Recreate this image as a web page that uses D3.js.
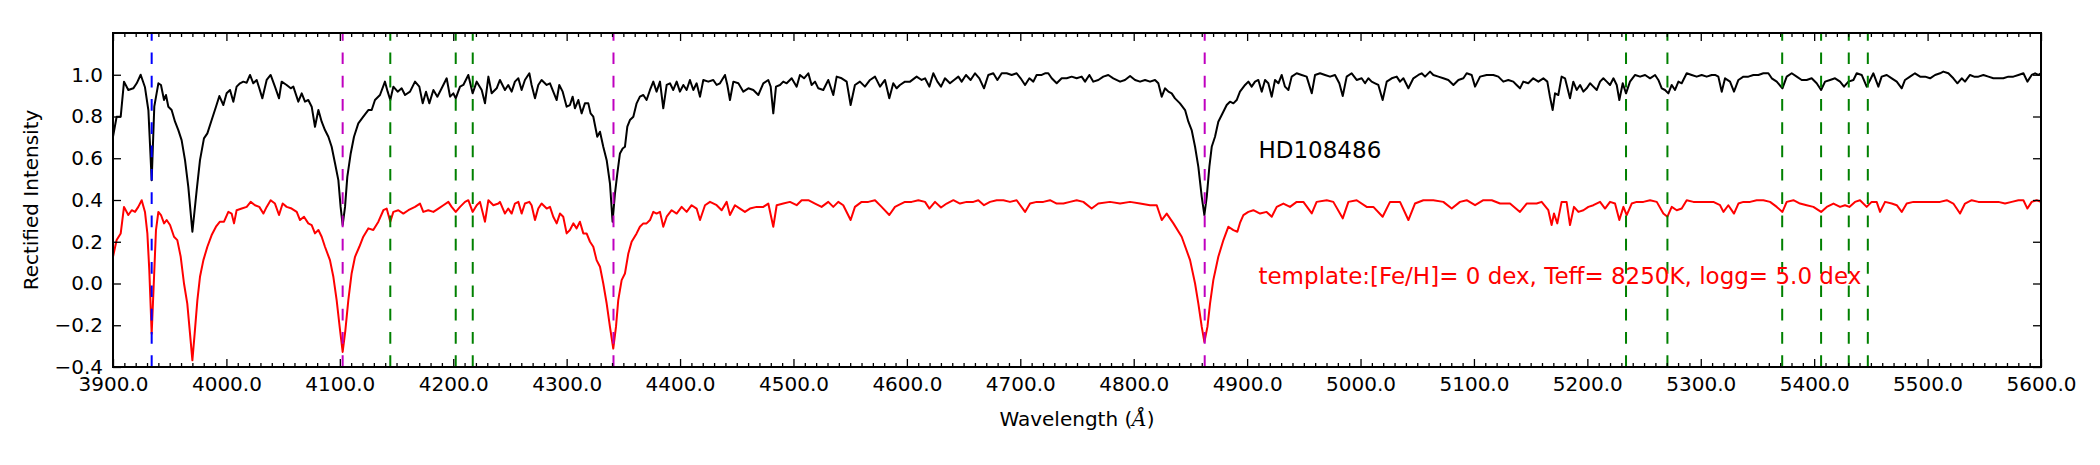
<!DOCTYPE html>
<html><head><meta charset="utf-8">
<script src="https://cdn.jsdelivr.net/npm/d3@7"></script>
<style>body{margin:0;background:#fff} svg text{font-family:"DejaVu Sans",sans-serif}</style>
</head><body><svg id="chart" width="2100" height="465"></svg>
<script>
// Observed spectrum HD108486: [wavelength (Å), rectified intensity]
const observed = [
[3900,0.703],[3903.2,0.799],[3906.8,0.799],[3909.7,0.967],[3913.5,0.927],[3917.9,0.935],[3920.9,0.959],[3924.4,1.0],[3928.2,0.94],[3931.2,0.83],[3934.1,0.495],[3936.4,0.847],[3940.0,0.959],[3942.3,0.951],[3945.0,0.879],[3946.7,0.903],[3948.8,0.847],[3951.7,0.831],[3954.7,0.775],[3957.6,0.735],[3960.5,0.687],[3963.5,0.591],[3966.4,0.463],[3970.0,0.248],[3973.8,0.447],[3976.7,0.591],[3980.2,0.695],[3983.2,0.719],[3987.0,0.783],[3990.8,0.847],[3993.8,0.898],[3997.3,0.855],[4000.2,0.911],[4003.2,0.927],[4006.1,0.871],[4009.0,0.943],[4012.0,0.959],[4014.9,0.967],[4017.9,0.962],[4020.8,0.999],[4023.7,0.959],[4026.7,0.975],[4029.0,0.935],[4031.7,0.887],[4035.5,0.975],[4039.0,0.999],[4042.8,0.943],[4046.4,0.887],[4048.7,0.967],[4053.1,0.951],[4056.7,0.935],[4059.0,0.943],[4063.4,0.871],[4066.4,0.911],[4069.3,0.871],[4072.2,0.879],[4075.2,0.847],[4078.1,0.751],[4081.1,0.831],[4084.0,0.775],[4086.9,0.735],[4089.9,0.703],[4092.8,0.655],[4095.8,0.575],[4098.7,0.495],[4100.7,0.367],[4102.5,0.280],[4104.6,0.367],[4106.6,0.511],[4109.6,0.623],[4112.5,0.703],[4116.3,0.767],[4120.7,0.799],[4125.1,0.831],[4128.1,0.831],[4131.0,0.879],[4135.4,0.903],[4139.8,0.967],[4142.2,0.919],[4144.5,0.879],[4147.2,0.943],[4151.0,0.919],[4154.5,0.935],[4157.5,0.903],[4161.9,0.919],[4166.3,0.967],[4170.1,0.943],[4173.1,0.863],[4176.0,0.919],[4178.9,0.863],[4182.5,0.927],[4186.0,0.895],[4189.8,0.935],[4194.2,0.983],[4197.2,0.895],[4200.1,0.911],[4202.2,0.887],[4206.0,0.943],[4208.9,0.951],[4213.3,0.999],[4217.1,0.911],[4220.7,0.967],[4225.1,0.927],[4228.0,0.863],[4231.0,0.991],[4233.9,0.911],[4238.3,0.935],
[4241.2,0.975],[4245.6,0.927],[4248.5,0.951],[4251.5,0.919],[4254.4,0.967],[4257.4,0.983],[4260.3,0.927],[4263.2,0.975],[4267.1,1.007],[4269.1,0.951],[4272.1,0.887],[4275.0,0.951],[4277.9,0.975],[4282.4,0.951],[4285.3,0.959],[4288.2,0.919],[4291.2,0.879],[4293.5,0.951],[4296.5,0.919],[4300.0,0.847],[4302.9,0.855],[4305.3,0.895],[4307.3,0.839],[4310.3,0.879],[4313.2,0.815],[4316.1,0.863],[4319.1,0.863],[4321.1,0.815],[4323.5,0.799],[4327.0,0.703],[4329.4,0.727],[4332.3,0.655],[4335.3,0.591],[4338.2,0.479],[4340.5,0.296],[4342.6,0.431],[4344.7,0.527],[4347.0,0.623],[4349.4,0.647],[4351.4,0.655],[4353.5,0.751],[4355.8,0.783],[4358.8,0.799],[4361.7,0.863],[4364.6,0.895],[4367.6,0.903],[4370.5,0.879],[4373.5,0.927],[4376.4,0.967],[4379.3,0.919],[4382.3,0.967],[4385.2,0.839],[4388.2,0.951],[4391.1,0.959],[4394.0,0.927],[4397.0,0.967],[4399.9,0.919],[4402.9,0.951],[4405.8,0.927],[4408.7,0.975],[4411.7,0.927],[4414.6,0.959],[4417.6,0.895],[4420.5,0.975],[4424.9,0.967],[4429.3,0.975],[4432.3,0.951],[4435.2,0.959],[4439.6,0.999],[4441.7,0.951],[4444.0,0.879],[4447.0,0.967],[4451.4,0.959],[4455.8,0.919],[4460.2,0.935],[4464.6,0.927],[4469.0,0.903],[4473.4,0.959],[4477.8,0.975],[4479.9,0.943],[4482.2,0.815],[4484.6,0.943],[4488.1,0.951],[4491.0,0.967],[4494.0,0.959],[4498.4,0.983],[4502.8,0.943],[4505.7,0.999],[4509.3,0.983],[4513.1,1.007],[4516.0,0.951],[4519.0,0.967],[4521.9,0.935],[4526.3,0.927],[4530.7,0.975],[4535.1,0.903],[4538.1,0.991],[4542.5,0.983],[4546.9,0.967],[4550.4,0.855],[4554.2,0.951],[4558.6,0.967],[4563.0,0.943],[4567.5,0.975],[4571.9,0.991],[4576.3,0.943],[4580.7,0.975],[4584.5,0.887],[4588.0,0.959],
[4591.0,0.935],[4593.9,0.951],[4598.3,0.967],[4602.8,0.967],[4608.6,0.991],[4613.0,0.975],[4616.0,0.983],[4619.8,0.943],[4623.3,1.007],[4626.9,0.967],[4630.1,0.943],[4633.6,0.983],[4638.0,0.959],[4641.6,0.975],[4645.4,0.991],[4648.3,0.967],[4652.1,0.999],[4656.2,0.975],[4660.1,1.007],[4663.9,0.983],[4668.0,0.935],[4671.8,0.999],[4676.2,1.007],[4679.8,0.975],[4683.6,1.007],[4688.0,1.007],[4692.4,0.999],[4696.8,1.007],[4700.3,0.983],[4704.2,0.951],[4708.0,0.983],[4711.5,0.967],[4714.4,0.999],[4718.9,0.999],[4721.8,1.007],[4724.7,1.007],[4727.7,0.983],[4732.1,0.959],[4736.5,0.983],[4740.9,0.983],[4745.3,0.991],[4749.7,0.983],[4754.1,0.991],[4757.1,0.967],[4760.9,0.999],[4764.4,0.967],[4768.8,0.975],[4773.2,0.991],[4777.6,0.999],[4782.0,0.983],
[4788.0,0.967],[4792.3,0.975],[4796.8,0.994],[4801.2,0.975],[4805.6,0.967],[4810.0,0.975],[4814.4,0.967],[4818.8,0.975],[4821.7,0.959],[4824.7,0.895],[4827.6,0.935],[4830.6,0.919],[4833.5,0.911],[4836.4,0.887],[4840.8,0.863],[4845.3,0.831],[4848.2,0.775],[4851.1,0.735],[4854.1,0.655],[4857.0,0.559],[4860.0,0.415],[4862.3,0.328],[4864.4,0.415],[4866.7,0.559],[4868.8,0.655],[4871.7,0.703],[4874.6,0.775],[4877.6,0.807],[4882.0,0.855],[4884.9,0.871],[4887.9,0.863],[4890.8,0.879],[4893.7,0.919],[4898.2,0.951],[4901.1,0.967],[4904.0,0.943],[4907.0,0.967],[4909.9,0.975],[4912.9,0.919],[4915.8,0.975],[4918.7,0.959],[4921.7,0.895],[4924.6,0.975],[4927.6,0.959],[4930.5,0.999],[4933.4,0.943],[4936.4,0.927],[4939.3,0.991],[4943.7,1.007],[4948.1,0.999],[4952.5,0.991],[4957.0,0.911],[4959.9,0.999],[4964.3,1.007],[4968.7,0.999],[4973.1,0.991],[4977.5,0.999],[4981.3,0.959],[4984.3,0.898],[4987.8,0.991],[4992.2,1.007],[4996.6,0.975],[5001.0,0.983],[5004.0,0.959],[5006.9,0.983],[5009.8,0.967],[5012.8,0.959],[5015.7,0.951],[5019.5,0.879],[5023.1,0.967],[5027.5,0.983],[5031.9,0.991],[5034.8,0.967],[5037.8,0.983],[5042.2,0.935],[5046.6,0.983],[5051.0,0.999],[5053.9,1.007],[5056.9,0.991],[5061.3,1.015],[5064.2,0.999],[5068.6,0.991],[5073.0,0.983],[5077.4,0.975],[5081.9,0.951],[5086.3,0.975],[5090.7,0.983],[5093.6,1.007],[5098.0,0.999],[5101.0,0.943],[5105.4,0.991],[5111.2,0.999],[5117.1,0.999],
[5121.5,0.991],[5125.9,0.967],[5130.3,0.975],[5134.7,0.967],[5137.6,0.951],[5140.6,0.935],[5143.5,0.967],[5147.9,0.959],[5152.3,0.983],[5156.8,0.967],[5161.2,0.983],[5164.7,0.967],[5167.0,0.895],[5169.4,0.831],[5171.5,0.911],[5174.4,0.903],[5177.3,0.991],[5180.3,0.983],[5184.7,0.887],[5187.6,0.967],
[5190.6,0.927],[5193.6,0.951],[5196.5,0.919],[5199.4,0.935],[5202.4,0.959],[5205.3,0.943],[5208.3,0.927],[5211.2,0.967],[5214.1,0.983],[5217.1,0.967],[5220.0,0.951],[5223.0,0.983],[5225.9,0.951],[5228.2,0.879],[5231.2,0.959],[5234.1,0.911],[5237.6,0.967],[5242.1,0.999],[5246.5,0.991],[5250.9,0.999],[5255.3,0.983],[5259.7,0.999],[5262.6,0.975],[5265.6,0.935],[5268.5,0.927],[5271.4,0.911],[5274.4,0.951],[5277.3,0.927],[5280.3,0.967],[5283.2,0.959],[5287.6,1.007],[5292.0,0.999],[5296.4,0.991],[5300.8,0.999],[5305.2,0.991],[5309.7,0.999],[5312.6,0.999],[5315.5,0.991],[5318.5,0.919],[5321.4,0.983],[5325.8,0.967],[5329.3,0.919],[5333.2,0.975],[5337.6,0.991],[5342.0,0.991],[5346.4,0.999],[5350.8,0.999],[5355.2,1.007],[5359.6,1.007],[5362.6,0.983],[5367.0,0.967],[5372.0,0.935],[5375.8,0.991],[5380.2,1.007],[5384.6,0.991],[5389.0,0.975],[5393.4,0.975],[5397.8,0.983],[5402.2,0.959],[5406.1,0.927],[5409.6,0.967],[5414.0,0.975],[5418.4,0.983],[5422.8,0.967],[5426.3,0.943],[5430.2,0.967],[5434.6,0.975],[5437.5,1.007],[5441.9,0.999],[5446.3,0.943],[5449.3,0.975],[5452.2,1.007],[5456.6,0.943],[5459.5,0.991],[5464.0,0.999],[5468.4,0.983],[5472.8,0.967],[5477.2,0.935],[5480.1,0.975],[5484.5,0.991],[5488.9,1.007],[5493.4,0.991],[5497.8,0.991],[5502.2,0.983],[5506.6,0.999],[5511.0,1.007],[5513.9,1.015],[5518.3,1.007],[5522.7,0.983],[5526.3,0.959],[5530.1,0.983],[5533.0,0.967],[5537.4,0.999],[5541.0,0.991],[5544.8,0.991],[5549.2,0.999],[5553.6,0.991],[5558.0,0.983],[5562.4,0.983],[5566.8,0.983],[5571.2,0.991],[5575.6,0.991],[5580.1,0.999],[5584.5,1.007],[5588.0,0.967],[5591.8,0.999],[5594.8,1.007],[5597.7,0.999],[5600.0,1.007]
];
// Template spectrum (shifted down): [wavelength (Å), rectified intensity]
const template = [
[3900,0.128],[3903.2,0.208],[3906.8,0.240],[3909.7,0.367],[3913.5,0.328],[3916.5,0.351],[3919.4,0.343],[3922.3,0.367],[3925.3,0.399],[3928.2,0.343],[3930.3,0.240],[3932.0,0.064],[3934.1,-0.240],[3936.2,0.032],[3937.9,0.256],[3940.0,0.343],[3942.3,0.328],[3945.0,0.288],[3947.3,0.304],[3950.3,0.280],[3953.8,0.224],[3956.7,0.208],[3959.7,0.128],[3962.6,0.000],[3965.5,-0.096],[3967.9,-0.240],[3970.0,-0.368],[3972.0,-0.240],[3974.4,-0.080],[3976.7,0.032],[3979.7,0.112],[3983.2,0.176],[3987.0,0.232],[3990.8,0.272],[3994.3,0.296],[3997.9,0.296],[4001.7,0.343],[4004.6,0.335],[4006.7,0.288],[4009.0,0.351],[4013.5,0.359],[4017.9,0.367],[4021.4,0.391],[4025.2,0.375],[4029.0,0.367],[4032.6,0.335],[4035.5,0.367],[4039.0,0.399],[4042.8,0.383],[4046.4,0.328],[4049.6,0.383],[4053.1,0.367],[4057.5,0.359],[4062.0,0.343],[4064.9,0.304],[4068.4,0.320],[4072.2,0.288],[4075.2,0.280],[4078.1,0.240],[4081.1,0.256],[4084.0,0.224],[4086.9,0.176],[4091.3,0.112],[4094.3,0.032],[4097.2,-0.080],[4100.2,-0.224],[4102.5,-0.328],[4104.9,-0.224],[4107.5,-0.080],[4110.4,0.048],[4113.4,0.128],[4117.2,0.176],[4120.7,0.224],[4125.1,0.264],[4129.5,0.256],[4134.0,0.296],[4138.4,0.351],[4141.3,0.359],[4144.5,0.296],[4147.2,0.343],[4151.6,0.351],[4156.0,0.335],[4160.4,0.351],[4166.3,0.367],[4170.7,0.383],[4173.6,0.343],[4178.0,0.351],[4182.5,0.343],[4186.9,0.359],[4191.3,0.375],[4195.7,0.391],[4198.6,0.367],[4202.2,0.343],[4206.0,0.367],[4210.4,0.391],[4213.3,0.399],[4217.1,0.343],[4220.7,0.375],[4223.6,0.391],[4228.0,0.296],[4231.0,0.399],[4235.4,0.375],[4239.8,0.383],
[4241.2,0.391],[4245.6,0.335],[4248.5,0.359],[4251.5,0.335],[4254.4,0.383],[4257.4,0.391],[4260.3,0.335],[4263.2,0.383],[4267.1,0.391],[4269.1,0.375],[4272.1,0.304],[4275.0,0.359],[4277.9,0.383],[4282.4,0.359],[4285.3,0.367],[4288.2,0.320],[4291.2,0.288],[4294.1,0.335],[4297.0,0.320],[4300.0,0.240],[4302.9,0.256],[4305.9,0.288],[4308.8,0.264],[4311.7,0.296],[4314.7,0.240],[4317.6,0.240],[4320.6,0.200],[4323.5,0.176],[4326.4,0.112],[4329.4,0.080],[4332.3,0.000],[4335.3,-0.096],[4338.2,-0.208],[4341.1,-0.312],[4343.5,-0.208],[4345.5,-0.080],[4348.5,0.016],[4351.4,0.048],[4354.4,0.144],[4357.3,0.200],[4361.7,0.240],[4364.6,0.272],[4367.6,0.288],[4370.5,0.288],[4373.5,0.304],[4376.4,0.343],[4379.3,0.335],[4382.3,0.343],[4385.2,0.272],[4388.2,0.320],[4392.6,0.351],[4397.0,0.335],[4401.4,0.367],[4405.8,0.343],[4410.2,0.375],[4414.6,0.359],[4417.6,0.304],[4422.0,0.375],[4426.4,0.391],[4432.3,0.375],[4436.7,0.351],[4441.1,0.391],[4444.0,0.328],[4448.4,0.375],[4452.8,0.359],[4457.2,0.343],[4461.6,0.359],[4467.5,0.367],[4473.4,0.367],[4477.8,0.383],[4482.2,0.272],[4485.2,0.375],[4491.0,0.383],[4496.9,0.391],[4502.8,0.375],[4507.2,0.399],[4513.1,0.399],[4519.0,0.383],[4524.8,0.367],[4530.7,0.391],[4535.1,0.367],[4539.5,0.391],[4543.9,0.375],[4550.4,0.304],[4554.2,0.367],[4560.1,0.391],[4566.0,0.391],[4571.9,0.399],[4577.7,0.367],[4584.5,0.328],[4589.5,0.367],
[4592.5,0.375],[4598.3,0.391],[4604.2,0.391],[4610.1,0.399],[4616.0,0.391],[4619.8,0.359],[4624.8,0.391],[4630.1,0.364],[4635.1,0.383],[4641.0,0.399],[4646.8,0.383],[4652.7,0.391],[4658.6,0.391],[4663.0,0.399],[4668.0,0.375],[4673.3,0.391],[4679.2,0.399],[4685.1,0.399],[4690.9,0.391],[4696.8,0.399],[4704.2,0.343],[4708.6,0.383],[4714.4,0.391],[4720.3,0.391],[4726.2,0.399],[4732.1,0.383],[4738.0,0.383],[4743.8,0.391],[4749.7,0.399],[4755.6,0.391],[4762.9,0.359],[4768.8,0.383],
[4779.1,0.391],[4788.0,0.383],[4796.8,0.391],[4805.6,0.383],[4814.4,0.375],[4820.3,0.375],[4824.7,0.304],[4829.1,0.335],[4835.0,0.288],[4842.3,0.224],[4849.7,0.112],[4854.1,0.000],[4857.0,-0.096],[4860.0,-0.208],[4862.3,-0.280],[4865.0,-0.208],[4867.3,-0.096],[4870.2,0.016],[4874.6,0.128],[4879.1,0.208],[4883.5,0.272],[4887.9,0.256],[4891.4,0.248],[4893.7,0.290],[4896.7,0.328],[4901.1,0.343],[4905.5,0.351],[4911.4,0.335],[4917.2,0.343],[4921.7,0.320],[4926.1,0.367],[4932.0,0.383],[4937.8,0.367],[4943.7,0.391],[4949.6,0.391],[4957.0,0.336],[4961.3,0.391],[4970.2,0.399],[4976.0,0.391],[4984.3,0.312],[4989.3,0.391],[4996.6,0.399],[5005.4,0.367],[5011.3,0.367],[5019.5,0.320],[5026.0,0.391],[5034.8,0.391],[5042.2,0.304],[5048.0,0.383],[5055.4,0.399],[5064.2,0.399],[5073.0,0.391],[5080.4,0.359],[5087.7,0.391],[5093.6,0.399],[5101.0,0.375],[5108.3,0.399],[5115.7,0.399],
[5123.0,0.383],[5131.8,0.383],[5140.6,0.343],[5146.5,0.383],[5155.3,0.383],[5159.7,0.391],[5165.6,0.351],[5168.5,0.280],[5170.6,0.335],[5173.5,0.288],[5177.3,0.391],[5181.7,0.391],[5184.7,0.280],[5188.2,0.367],
[5192.1,0.343],[5196.5,0.351],[5200.9,0.367],[5205.3,0.375],[5211.2,0.391],[5215.6,0.359],[5220.0,0.391],[5224.4,0.383],[5228.2,0.304],[5231.8,0.367],[5234.7,0.328],[5239.1,0.383],[5243.5,0.391],[5249.4,0.391],[5255.3,0.399],[5261.2,0.391],[5267.0,0.335],[5270.6,0.320],[5274.4,0.367],[5278.8,0.351],[5283.2,0.359],[5287.6,0.399],[5293.5,0.391],[5299.4,0.391],[5305.2,0.391],[5311.1,0.391],[5317.0,0.375],[5320.0,0.343],[5324.3,0.375],[5329.3,0.335],[5333.2,0.383],[5337.6,0.391],[5343.5,0.391],[5349.3,0.399],[5355.2,0.399],[5361.1,0.391],[5367.0,0.367],[5372.0,0.343],[5375.8,0.391],[5381.7,0.399],[5387.5,0.383],[5393.4,0.375],[5399.3,0.367],[5406.1,0.343],[5411.1,0.367],[5417.0,0.383],[5422.8,0.367],[5427.2,0.375],[5431.0,0.367],[5436.0,0.391],[5440.4,0.399],[5446.3,0.367],[5450.7,0.391],[5455.1,0.391],[5458.1,0.343],[5462.5,0.391],[5468.4,0.383],[5472.8,0.375],[5477.2,0.343],[5481.6,0.383],[5487.5,0.391],[5493.4,0.391],[5499.2,0.391],[5505.1,0.391],[5511.0,0.391],[5516.9,0.399],[5522.7,0.383],[5528.6,0.335],[5533.0,0.383],[5538.9,0.399],[5544.8,0.391],[5550.7,0.391],[5556.5,0.391],[5562.4,0.391],[5568.3,0.383],[5574.2,0.391],[5580.1,0.399],[5584.5,0.399],[5588.0,0.359],[5591.8,0.391],[5596.2,0.399],[5600.0,0.391]
];
const caLines = [3934.1];
const balmerLines = [4102.5, 4341.3, 4862.6];
const metalLines = [4144.5, 4202.2, 4217.2, 5234.1, 5270.6, 5371.8, 5406.1, 5430.5, 5447.3];
const xTicks = [3900,4000,4100,4200,4300,4400,4500,4600,4700,4800,4900,5000,5100,5200,5300,5400,5500,5600];
const yTicks = [-0.4,-0.2,0.0,0.2,0.4,0.6,0.8,1.0];
const starName = "HD108486";
const templateLabel = "template:[Fe/H]= 0 dex, Teff= 8250K, logg= 5.0 dex";

const svg = d3.select("#chart");
const L = 113, R = 2041, T = 33, B = 367;
const x = d3.scaleLinear().domain([3900, 5600]).range([L, R]);
const y = d3.scaleLinear().domain([-0.4, 1.2]).range([B, T]);
const minorX = d3.range(3900, 5601, 10).filter(v => v % 100 !== 0);

svg.append("defs").append("clipPath").attr("id","clip")
  .append("rect").attr("x",L).attr("y",T).attr("width",R-L).attr("height",B-T);

const line = d3.line().x(d => x(d[0])).y(d => y(d[1]));
const plot = svg.append("g").attr("clip-path","url(#clip)");
plot.append("path").datum(observed).attr("d",line).attr("fill","none")
  .attr("stroke","#000").attr("stroke-width",2).attr("stroke-linejoin","round");
plot.append("path").datum(template).attr("d",line).attr("fill","none")
  .attr("stroke","#ff0000").attr("stroke-width",2).attr("stroke-linejoin","round");

function vlines(data, color) {
  plot.selectAll(null).data(data).enter().append("line")
    .attr("x1", d => x(d)).attr("x2", d => x(d))
    .attr("y1", y(-0.4)).attr("y2", y(1.2))
    .attr("stroke", color).attr("stroke-width", 2)
    .attr("stroke-dasharray", "11.7,11.6");
}
vlines(caLines, "#0000ff");
vlines(balmerLines, "#bf00bf");
vlines(metalLines, "#008000");

// text annotations
svg.append("text").attr("x", x(4910)).attr("y", y(0.6)).attr("font-size", 23)
  .attr("fill", "#000").text(starName);
svg.append("text").attr("x", x(4910)).attr("y", y(0.0)).attr("font-size", 23)
  .attr("fill", "#ff0000").text(templateLabel);

function styleAxis(g) {
  g.select(".domain").remove();
  g.selectAll("line").attr("stroke","#000").attr("stroke-width",1.3);
  g.selectAll("text").attr("font-family","DejaVu Sans, sans-serif").attr("font-size",20).attr("fill","#000");
}
const fmt = d3.format(".1f");
svg.append("g").attr("transform",`translate(0,${B})`)
  .call(d3.axisBottom(x).tickValues(xTicks).tickFormat(fmt).tickSize(-8).tickPadding(10)).call(styleAxis);
svg.append("g").attr("transform",`translate(0,${B})`)
  .call(d3.axisBottom(x).tickValues(minorX).tickFormat("").tickSize(-4)).call(styleAxis);
svg.append("g").attr("transform",`translate(0,${T})`)
  .call(d3.axisTop(x).tickValues(xTicks).tickFormat("").tickSize(-8)).call(styleAxis);
svg.append("g").attr("transform",`translate(0,${T})`)
  .call(d3.axisTop(x).tickValues(minorX).tickFormat("").tickSize(-4)).call(styleAxis);
svg.append("g").attr("transform",`translate(${L},0)`)
  .call(d3.axisLeft(y).tickValues(yTicks).tickFormat(fmt).tickSize(-8).tickPadding(10)).call(styleAxis);
svg.append("g").attr("transform",`translate(${R},0)`)
  .call(d3.axisRight(y).tickValues(yTicks).tickFormat("").tickSize(-8)).call(styleAxis);

svg.append("rect").attr("x",L).attr("y",T).attr("width",R-L).attr("height",B-T)
  .attr("fill","none").attr("stroke","#000").attr("stroke-width",2);

// axis labels
svg.append("text").attr("transform",`translate(38,${(T+B)/2}) rotate(-90)`)
  .attr("text-anchor","middle").attr("font-size",20).text("Rectified Intensity");
const xl = svg.append("text").attr("x",(L+R)/2).attr("y",426)
  .attr("text-anchor","middle").attr("font-size",20);
xl.append("tspan").text("Wavelength (");
xl.append("tspan").attr("font-family","DejaVu Serif, serif").attr("font-style","italic").text("Å");
xl.append("tspan").text(")");
</script></body></html>
